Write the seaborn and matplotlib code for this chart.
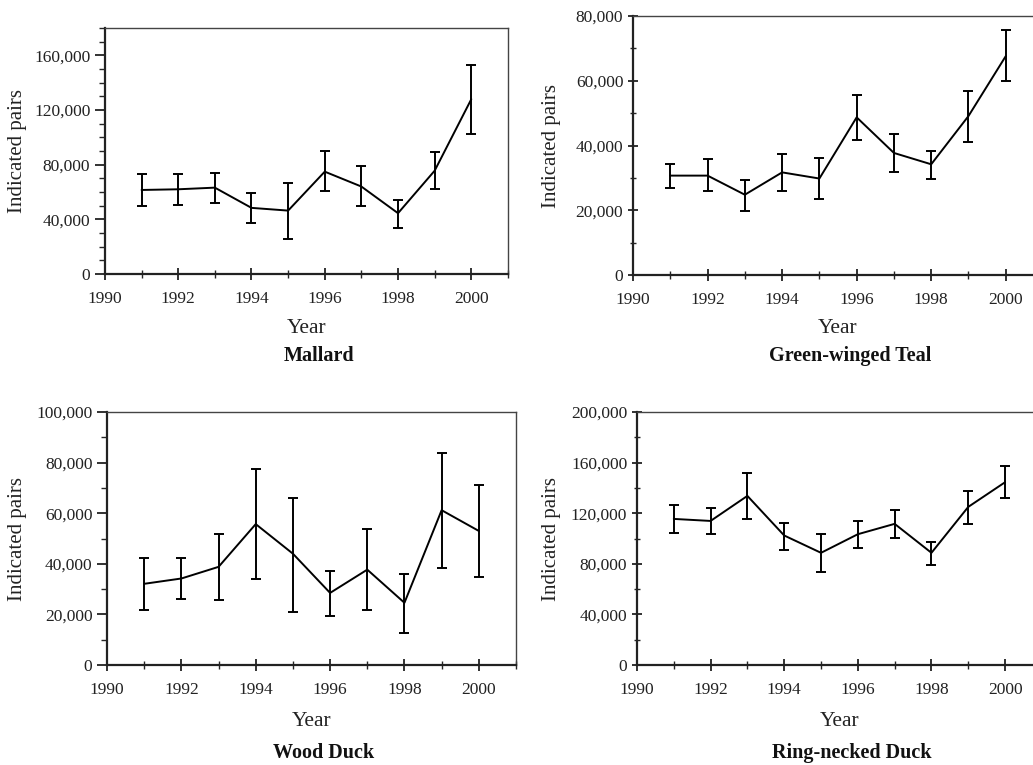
import matplotlib
matplotlib.use("Agg")
import matplotlib.pyplot as plt
import seaborn as sns
import pandas as pd
from matplotlib.ticker import MultipleLocator, FuncFormatter

# Datos
years = [1991, 1992, 1993, 1994, 1995, 1996, 1997, 1998, 1999, 2000]

mallard = [61500, 62000, 63200, 48400, 46400, 74900, 64000, 44500, 75600, 127900]
mallard_hi = [73000, 73200, 74200, 59100, 66600, 89700, 79300, 54200, 89200, 152700]
mallard_lo = [49800, 50600, 52300, 37400, 25500, 60500, 49800, 34000, 62200, 102600]

teal = [30700, 30700, 24800, 31700, 29800, 48700, 37700, 34200, 49100, 67600]
teal_hi = [34400, 35900, 29500, 37400, 36000, 55600, 43700, 38400, 56900, 75700]
teal_lo = [27000, 25900, 19900, 26000, 23400, 41600, 31800, 29800, 41000, 59900]

wood = [32100, 34200, 38800, 55700, 44000, 28500, 37700, 24600, 61200, 53000]
wood_hi = [42400, 42300, 51800, 77500, 66100, 37300, 53700, 36100, 84000, 71200]
wood_lo = [21600, 26100, 25600, 33900, 21000, 19400, 21600, 12700, 38500, 34600]

ring = [115500, 113900, 133700, 102400, 88700, 103400, 111600, 88700, 125000, 144500]
ring_hi = [126600, 124200, 151600, 112100, 103200, 113900, 122900, 97600, 137600, 157100]
ring_lo = [104200, 103700, 115800, 91300, 73700, 92400, 100500, 79200, 111300, 131800]

species = ["Mallard", "Green-winged Teal", "Wood Duck", "Ring-necked Duck"]

sns.set_style("ticks")
plt.rcParams['font.family'] = ['Liberation Serif', 'DejaVu Serif']

fig = plt.figure(figsize=(10.33, 7.65), dpi=100)

# (posicion, datos, ymax, mayor, menor, direccion ticks y, coords etiquetas)
paneles = [
    ([0.1016, 0.6418, 0.3901, 0.3216], mallard, mallard_lo, mallard_hi, 180000, 40000, 10000, "out", -0.218, -0.22, -0.333),
    ([0.6128, 0.6405, 0.3969, 0.3386], teal, teal_lo, teal_hi, 80000, 20000, 10000, "inout", -0.198, -0.205, -0.313),
    ([0.1036, 0.1307, 0.3959, 0.3307], wood, wood_lo, wood_hi, 100000, 20000, 10000, "out", -0.22, -0.225, -0.348),
    ([0.6166, 0.1307, 0.3920, 0.3307], ring, ring_lo, ring_hi, 200000, 40000, 20000, "inout", -0.212, -0.225, -0.348),
]

fmt_miles = FuncFormatter(lambda v, p: f"{v:,.0f}")

for nombre, (pos, vals, lo, hi, ymax, mayor, menor, ydir, ylx, xly, tly) in zip(species, paneles):
    ax = fig.add_axes(pos)
    df = pd.DataFrame({"Year": years, "pairs": vals})
    sns.lineplot(data=df, x="Year", y="pairs", ax=ax, color="black", linewidth=1.4)
    err = [[v - l for v, l in zip(vals, lo)], [h - v for v, h in zip(vals, hi)]]
    ax.errorbar(years, vals, yerr=err, fmt="none", ecolor="black",
                elinewidth=1.4, capsize=3.5, capthick=1.4)

    ax.set_xlim(1990, 2001)
    ax.set_ylim(0, ymax)
    ax.xaxis.set_major_locator(MultipleLocator(2))
    ax.xaxis.set_minor_locator(MultipleLocator(1))
    ax.yaxis.set_major_locator(MultipleLocator(mayor))
    ax.yaxis.set_minor_locator(MultipleLocator(menor))
    ax.yaxis.set_major_formatter(fmt_miles)

    ax.tick_params(axis="x", which="major", direction="inout", length=9, width=1.3,
                   labelsize=12.5, colors="#222222", pad=8)
    ax.tick_params(axis="x", which="minor", direction="inout", length=6, width=1)
    ax.tick_params(axis="y", which="major", direction=ydir, length=7, width=1.3,
                   labelsize=12.5, colors="#222222")
    ax.tick_params(axis="y", which="minor", direction=ydir, length=4, width=1)

    for lado in ["left", "bottom"]:
        ax.spines[lado].set_linewidth(1.6)
        ax.spines[lado].set_color("#222222")
    for lado in ["top", "right"]:
        ax.spines[lado].set_linewidth(1.0)
        ax.spines[lado].set_color("#444444")

    ax.set_ylabel("Indicated pairs", fontsize=15, color="#222222")
    ax.yaxis.label.set_va("center")
    ax.yaxis.set_label_coords(ylx, 0.5)
    ax.set_xlabel("Year", fontsize=15.5, color="#222222")
    ax.xaxis.label.set_va("center")
    ax.xaxis.set_label_coords(0.5, xly)
    ax.text(0.53, tly, nombre, transform=ax.transAxes, ha="center", va="center",
            fontsize=14.5, fontweight="bold", color="#111111")

fig.savefig("out.png", dpi=100, facecolor="white")
plt.close(fig)
